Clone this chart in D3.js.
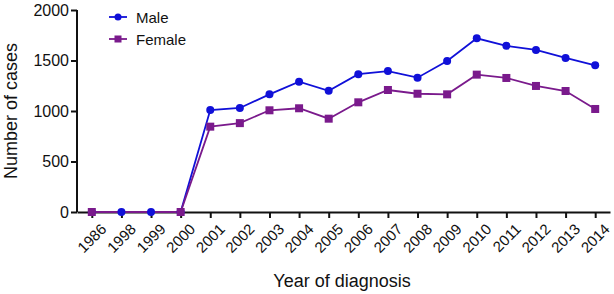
<!DOCTYPE html>
<html>
<head>
<meta charset="utf-8">
<script src="https://cdn.jsdelivr.net/npm/d3@7"></script>
<style>
  body { margin: 0; background: #fff; }
  text { font-family: "Liberation Sans", Arial, sans-serif; fill: #111; }
</style>
</head>
<body>
<svg id="chart" width="614" height="294"></svg>
<script>
// data
var years = ['1986', '1998', '1999', '2000', '2001', '2002', '2003', '2004', '2005', '2006',
             '2007', '2008', '2009', '2010', '2011', '2012', '2013', '2014'];
var male = [0, 0, 0, 0, 1010, 1030, 1165, 1290, 1200, 1365, 1395, 1330, 1495, 1720, 1645, 1605, 1525, 1452];
// no female value plotted for 1998 / 1999
var female = [0, null, null, 0, 845, 880, 1007, 1027, 924, 1086, 1208, 1171, 1165, 1360, 1327, 1248, 1198, 1020];
var yTicks = [0, 500, 1000, 1500, 2000];

var svg = d3.select('#chart');
var margin = {top: 10, right: 4, bottom: 82, left: 77};
var width = 614 - margin.left - margin.right,
    height = 294 - margin.top - margin.bottom;

var g = svg.append('g').attr('transform', 'translate(' + margin.left + ',' + margin.top + ')');

var x = d3.scalePoint().domain(years).range([0, width]).padding(0.5);
var y = d3.scaleLinear().domain([0, 2000]).range([height, 0]);

// axes
var yAxis = g.append('g')
    .call(d3.axisLeft(y).tickValues(yTicks).tickFormat(d3.format('d')).tickSize(6).tickPadding(2));
var xAxis = g.append('g')
    .attr('transform', 'translate(0,' + height + ')')
    .call(d3.axisBottom(x).tickSize(6).tickSizeOuter(0));

[yAxis, xAxis].forEach(function(a) {
    a.select('.domain').attr('stroke', '#111').attr('stroke-width', 2);
    a.selectAll('.tick line').attr('stroke', '#111').attr('stroke-width', 2);
});
yAxis.select('.domain').attr('d', 'M0,' + height + 'V0');
yAxis.selectAll('.tick text').style('font-size', '16px').attr('fill', '#111');
xAxis.selectAll('.tick text')
    .style('font-size', '15px')
    .attr('fill', '#111')
    .attr('text-anchor', 'end')
    .attr('dy', '0.35em')
    .attr('transform', 'translate(5,8) rotate(-45)');

var series = [
    {name: 'Male', values: male, color: '#1010d8', shape: 'circle'},
    {name: 'Female', values: female, color: '#7a1a8c', shape: 'square'}
];

var line = d3.line()
    .x(function(d) { return x(d.year); })
    .y(function(d) { return y(d.v); });

series.forEach(function(s) {
    var pts = years.map(function(yr, i) { return {year: yr, v: s.values[i]}; })
                   .filter(function(d) { return d.v !== null; });
    g.append('path')
        .datum(pts)
        .attr('d', line)
        .attr('fill', 'none')
        .attr('stroke', s.color)
        .attr('stroke-width', 1.8);
    s.pts = pts;
});

function marker(sel, s) {
    if (s.shape === 'circle') {
        sel.append('circle').attr('r', 4).attr('fill', s.color);
    } else {
        sel.append('rect').attr('x', -4).attr('y', -4).attr('width', 8).attr('height', 8).attr('fill', s.color);
    }
}

series.forEach(function(s) {
    g.selectAll(null).data(s.pts).enter().append('g')
        .attr('transform', function(d) { return 'translate(' + x(d.year) + ',' + y(d.v) + ')'; })
        .each(function() { marker(d3.select(this), s); });
});

// legend
var legend = svg.append('g').attr('transform', 'translate(109,17)');
series.forEach(function(s, i) {
    var row = legend.append('g').attr('transform', 'translate(0,' + (i * 22) + ')');
    row.append('line').attr('x1', 0).attr('x2', 18).attr('stroke', s.color).attr('stroke-width', 1.8);
    var m = row.append('g').attr('transform', 'translate(9,0)');
    if (s.shape === 'circle') {
        m.append('circle').attr('r', 3.5).attr('fill', s.color);
    } else {
        m.append('rect').attr('x', -3.5).attr('y', -3.5).attr('width', 7).attr('height', 7).attr('fill', s.color);
    }
    row.append('text').attr('x', 27).attr('y', 5.5).style('font-size', '15px').text(s.name);
});

// axis titles
svg.append('text')
    .attr('transform', 'translate(17,' + (margin.top + height / 2) + ') rotate(-90)')
    .attr('text-anchor', 'middle')
    .style('font-size', '18px')
    .text('Number of cases');
svg.append('text')
    .attr('x', 342)
    .attr('y', 287)
    .attr('text-anchor', 'middle')
    .style('font-size', '18px')
    .text('Year of diagnosis');
</script>
</body>
</html>
